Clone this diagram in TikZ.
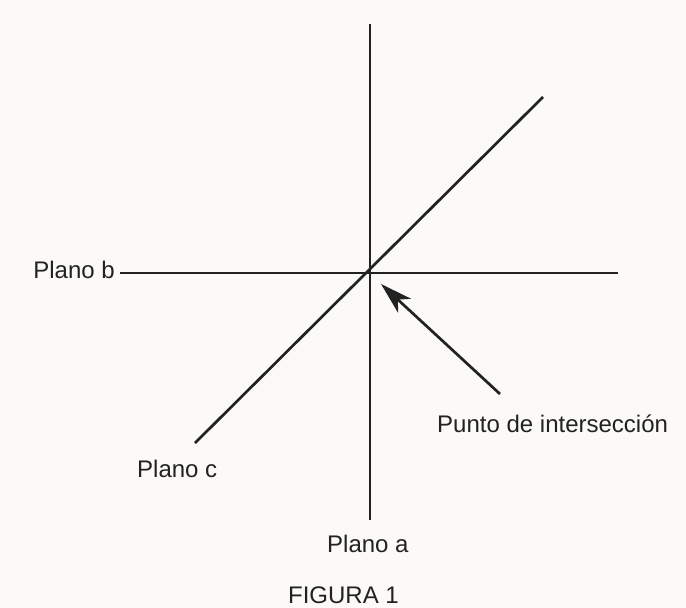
\documentclass[tikz,border=0pt]{standalone}
\usepackage{fontspec}
\setmainfont{Liberation Sans}
\usetikzlibrary{arrows.meta}
\definecolor{paper}{HTML}{FBFAF6}
\definecolor{ink}{HTML}{222222}
\begin{document}
\begin{tikzpicture}[x=1pt,y=-1pt,
  plane/.style={draw=ink,line width=2.7pt},
  lbl/.style={inner sep=0pt,text=ink,font=\fontsize{24}{28}\selectfont}]
\fill[paper] (0,0) rectangle (686,608);
\useasboundingbox (0,0) rectangle (686,608);
\coordinate (O) at (370,273);
\coordinate (aT) at (370,24);
\coordinate (aB) at (370,520);
\coordinate (bL) at (120,273);
\coordinate (bR) at (618,273);
\coordinate (cL) at (195,443);
\coordinate (cR) at (543,97);
\coordinate (tail) at (500,394);
\coordinate (tip) at (381,284);
\draw[plane] (aT) -- (aB);
\draw[plane] (bL) -- (bR);
\draw[plane] (cL) -- (cR);
\draw[plane,-{Stealth[length=32pt,width=19pt,inset=9pt]}] (tail) -- (tip);
\node[lbl,anchor=base east] (pb) at (115,278) {Plano b};
\node[lbl,anchor=base west] (pc) at (137,477) {Plano c};
\node[lbl,anchor=base west] (pa) at (327,552) {Plano a};
\node[lbl,anchor=base west] (pi) at (437,432) {Punto de intersección};
\node[lbl,anchor=base east] (fig) at (399,603) {FIGURA 1};
\end{tikzpicture}
\end{document}
